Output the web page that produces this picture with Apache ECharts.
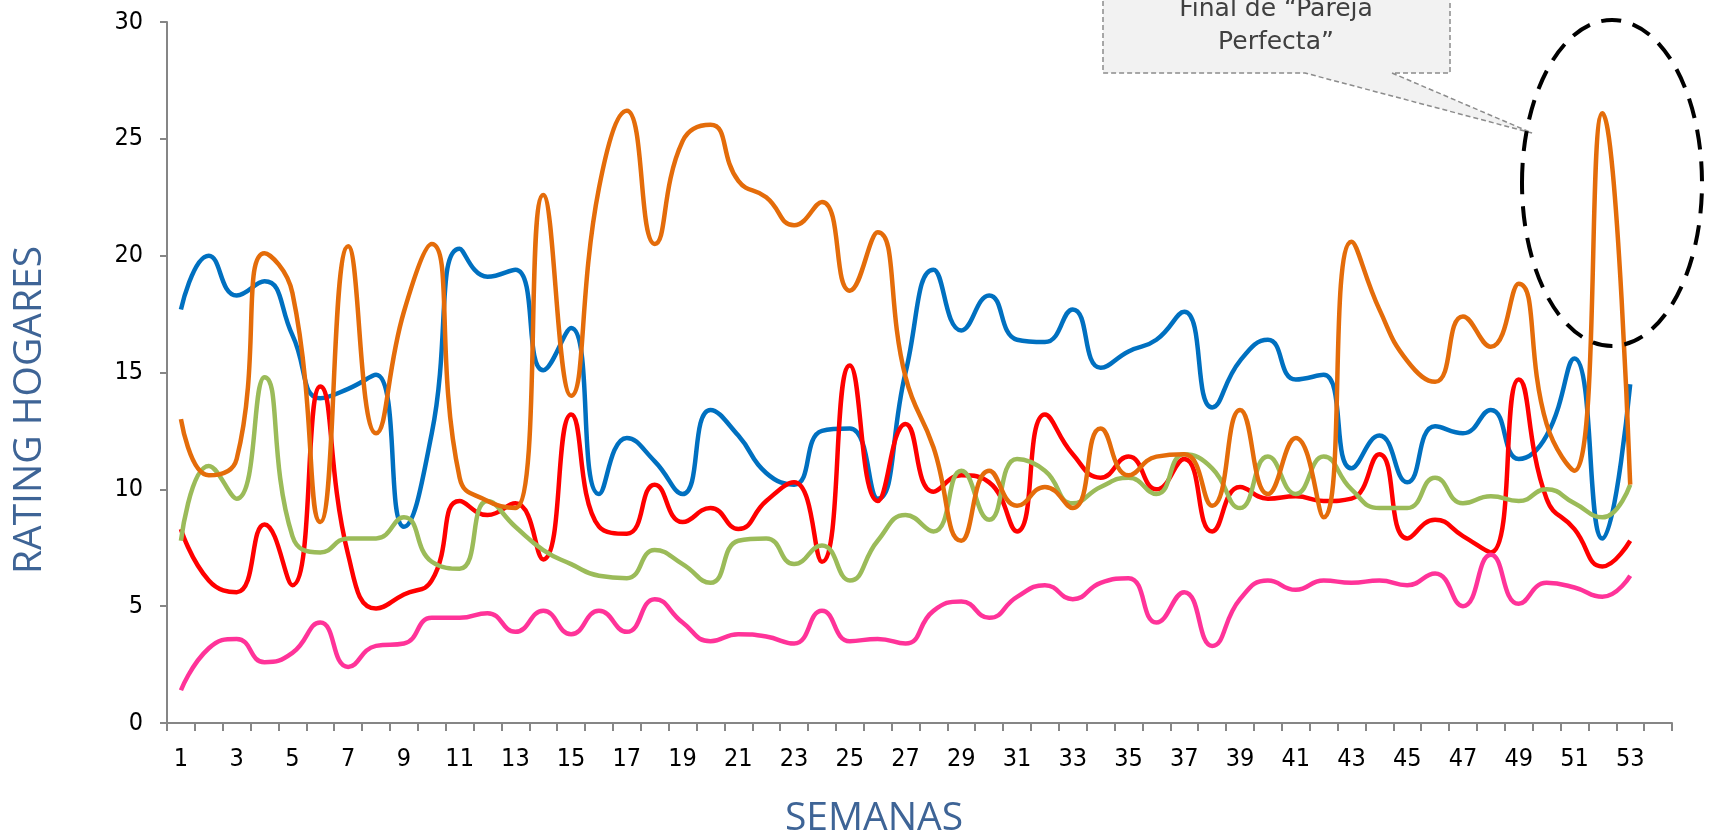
<!DOCTYPE html>
<html>
<head>
<meta charset="utf-8">
<script src="https://cdn.jsdelivr.net/npm/echarts@6/dist/echarts.min.js"></script>
<style>
html,body{margin:0;padding:0;background:#fff;}
#chart{width:1712px;height:835px;}
</style>
</head>
<body>
<div id="chart"></div>
<script>
const weeks = ['1','2','3','4','5','6','7','8','9','10','11','12','13','14','15','16','17','18','19','20','21','22','23','24','25','26','27','28','29','30','31','32','33','34','35','36','37','38','39','40','41','42','43','44','45','46','47','48','49','50','51','52','53','54'];
const yTicks = [0, 5, 10, 15, 20, 25, 30];

const blue   = [17.7, 20.0, 18.3, 18.9, 16.6, 13.9, 14.3, 14.9, 8.4, 12.4, 20.3, 19.1, 19.4, 15.1, 16.9, 9.8, 12.2, 11.2, 9.8, 13.4, 12.3, 10.7, 10.2, 12.5, 12.6, 9.6, 15.0, 19.4, 16.8, 18.3, 16.4, 16.3, 17.7, 15.2, 15.9, 16.4, 17.6, 13.5, 15.5, 16.4, 14.7, 14.9, 10.9, 12.3, 10.3, 12.7, 12.4, 13.4, 11.3, 12.3, 15.6, 7.9, 14.5, null];
const orange = [13.0, 10.6, 11.3, 20.1, 18.4, 8.6, 20.4, 12.4, 17.6, 20.5, 10.5, 9.5, 9.2, 22.6, 14.0, 22.9, 26.2, 20.5, 24.9, 25.6, 23.2, 22.5, 21.3, 22.3, 18.5, 21.0, 14.8, 11.8, 7.8, 10.8, 9.3, 10.1, 9.2, 12.6, 10.6, 11.4, 11.5, 9.3, 13.4, 9.8, 12.2, 8.8, 20.6, 17.7, 15.5, 14.6, 17.4, 16.1, 18.8, 12.8, 10.8, 26.1, 10.2, null];
const red    = [8.3, 6.1, 5.6, 8.5, 5.9, 14.4, 7.2, 4.9, 5.5, 6.1, 9.5, 8.9, 9.4, 7.0, 13.2, 8.4, 8.1, 10.2, 8.6, 9.2, 8.3, 9.5, 10.3, 6.9, 15.3, 9.5, 12.8, 9.9, 10.6, 10.3, 8.2, 13.2, 11.5, 10.5, 11.4, 10.0, 11.3, 8.2, 10.1, 9.6, 9.7, 9.5, 9.6, 11.5, 7.9, 8.7, 8.0, 7.3, 14.7, 9.6, 8.3, 6.7, 7.8, null];
const green  = [7.8, 11.0, 9.6, 14.8, 8.0, 7.3, 7.9, 7.9, 8.8, 6.9, 6.6, 9.5, 8.4, 7.4, 6.8, 6.3, 6.2, 7.4, 6.8, 6.0, 7.8, 7.9, 6.8, 7.6, 6.1, 7.8, 8.9, 8.2, 10.8, 8.7, 11.3, 10.8, 9.4, 10.1, 10.5, 9.8, 11.5, 10.9, 9.2, 11.4, 9.8, 11.4, 10.0, 9.2, 9.2, 10.5, 9.4, 9.7, 9.5, 10.0, 9.4, 8.8, 10.2, null];
const pink   = [1.4, 3.2, 3.6, 2.6, 3.0, 4.3, 2.4, 3.3, 3.4, 4.5, 4.5, 4.7, 3.9, 4.8, 3.8, 4.8, 3.9, 5.3, 4.3, 3.5, 3.8, 3.7, 3.4, 4.8, 3.5, 3.6, 3.4, 4.8, 5.2, 4.5, 5.4, 5.9, 5.3, 6.0, 6.2, 4.3, 5.6, 3.3, 5.3, 6.1, 5.7, 6.1, 6.0, 6.1, 5.9, 6.4, 5.0, 7.2, 5.1, 6.0, 5.8, 5.4, 6.3, null];

const yAxisTitle = 'RATING HOGARES';
const xAxisTitle = 'SEMANAS';
const calloutLines = ['Final de “Pareja', 'Perfecta”'];

const chart = echarts.init(document.getElementById('chart'), null, {renderer: 'canvas'});
const tickFont = "'DejaVu Sans Condensed', 'DejaVu Sans', sans-serif";
const titleFont = "'Open Sans', sans-serif";
const axisGray = '#868686';

function line(name, data, color) {
  return {
    name: name, type: 'line', data: data, smooth: 0.5, showSymbol: false,
    symbol: 'none', connectNulls: false,
    lineStyle: {width: 4.5, color: color}, itemStyle: {color: color},
    animation: false
  };
}

chart.setOption({
  animation: false,
  grid: {left: 167, right: 40, top: 22, bottom: 112, containLabel: false},
  xAxis: {
    type: 'category', data: weeks, boundaryGap: true,
    axisLine: {show: true, lineStyle: {color: axisGray, width: 2}},
    axisTick: {show: true, interval: 0, length: 8, lineStyle: {color: axisGray, width: 2}},
    axisLabel: {interval: 1, margin: 24, color: '#000', fontSize: 25, fontFamily: tickFont},
    splitLine: {show: false}
  },
  yAxis: {
    type: 'value', min: yTicks[0], max: yTicks[yTicks.length - 1], interval: 5,
    axisLine: {show: true, lineStyle: {color: axisGray, width: 2}},
    axisTick: {show: true, length: 7, lineStyle: {color: axisGray, width: 2}},
    axisLabel: {margin: 24, color: '#000', fontSize: 25, fontFamily: tickFont},
    splitLine: {show: false}
  },
  series: [
    line('Serie 1', blue, '#0070C0'),
    line('Serie 2', red, '#FF0000'),
    line('Serie 3', green, '#9BBB59'),
    line('Serie 4', orange, '#E46C0A'),
    line('Serie 5', pink, '#FF3399')
  ],
  graphic: [
    {
      type: 'text', x: 30, y: 410, rotation: Math.PI / 2,
      style: {text: yAxisTitle, fill: '#3E6496', font: "39px " + titleFont, textAlign: 'center', textVerticalAlign: 'middle'}
    },
    {
      type: 'text', x: 874, y: 819,
      style: {text: xAxisTitle, fill: '#3E6496', font: "39px " + titleFont, textAlign: 'center', textVerticalAlign: 'middle'}
    },
    {
      type: 'polygon', z: 10,
      shape: {points: [[1103, -10], [1450, -10], [1450, 73], [1392, 73], [1532, 133], [1305, 73], [1103, 73]]},
      style: {fill: '#F2F2F2', stroke: '#8C8C8C', lineWidth: 1.5, lineDash: [5, 3]}
    },
    {
      type: 'text', z: 11, x: 1276, y: 9,
      style: {text: calloutLines[0], fill: '#404040', font: "25px 'DejaVu Sans', sans-serif", textAlign: 'center', textVerticalAlign: 'middle'}
    },
    {
      type: 'text', z: 11, x: 1276, y: 42,
      style: {text: calloutLines[1], fill: '#404040', font: "25px 'DejaVu Sans', sans-serif", textAlign: 'center', textVerticalAlign: 'middle'}
    },
    {
      type: 'ellipse', z: 12,
      shape: {cx: 1612, cy: 183, rx: 90, ry: 163},
      style: {fill: 'none', stroke: '#000', lineWidth: 4, lineDash: [20, 12]}
    }
  ]
});
</script>
</body>
</html>
